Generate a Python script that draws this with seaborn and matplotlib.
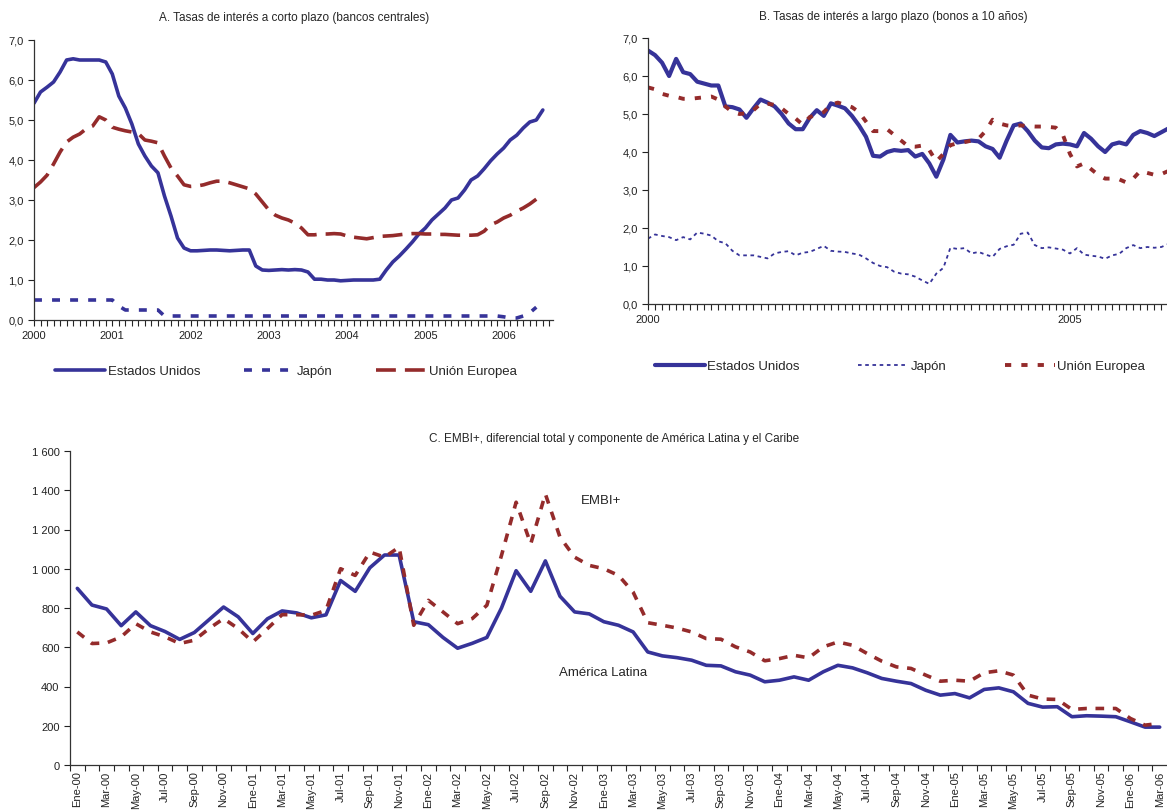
import numpy as np
import pandas as pd
import seaborn as sns
import matplotlib.pyplot as plt
from matplotlib.ticker import FuncFormatter, MultipleLocator, FixedLocator

# ---- data -------------------------------------------------------------
# Panel A: short-term rates, monthly from Jan 2000
a_usa = [5.42, 5.70, 5.82, 5.95, 6.20, 6.50, 6.53, 6.50, 6.50, 6.50, 6.50, 6.45,
         6.15, 5.60, 5.30, 4.90, 4.40, 4.10, 3.85, 3.68, 3.10, 2.60, 2.05, 1.80,
         1.73, 1.73, 1.74, 1.75, 1.75, 1.74, 1.73, 1.74, 1.75, 1.75, 1.35, 1.25,
         1.24, 1.25, 1.26, 1.25, 1.26, 1.25, 1.20, 1.02, 1.02, 1.00, 1.00, 0.98,
         0.99, 1.00, 1.00, 1.00, 1.00, 1.02, 1.25, 1.45, 1.60, 1.77, 1.95, 2.15,
         2.30, 2.50, 2.65, 2.80, 3.00, 3.05, 3.25, 3.50, 3.60, 3.78, 3.98, 4.15,
         4.30, 4.50, 4.62, 4.80, 4.95, 5.00, 5.25]
a_japan = [0.50] * 13 + [0.35] + [0.25] * 6 + [0.10] * 52 + [0.08, 0.05, 0.05, 0.10, 0.18, 0.32]
a_eu = [3.31, 3.45, 3.62, 3.90, 4.20, 4.45, 4.57, 4.65, 4.78, 4.85, 5.08, 5.00,
        4.82, 4.77, 4.73, 4.70, 4.66, 4.50, 4.47, 4.43, 4.10, 3.80, 3.60, 3.38,
        3.34, 3.35, 3.38, 3.43, 3.47, 3.47, 3.43, 3.38, 3.33, 3.28, 3.15, 2.95,
        2.75, 2.62, 2.55, 2.50, 2.42, 2.30, 2.13, 2.13, 2.15, 2.15, 2.16, 2.15,
        2.10, 2.07, 2.05, 2.03, 2.06, 2.09, 2.10, 2.11, 2.13, 2.15, 2.16, 2.16,
        2.15, 2.15, 2.14, 2.14, 2.13, 2.12, 2.12, 2.12, 2.13, 2.22, 2.38, 2.45,
        2.55, 2.62, 2.72, 2.80, 2.90, 3.02]

# Panel B: 10-year bond yields, monthly from Jan 2000
b_usa = [6.67, 6.55, 6.35, 6.00, 6.45, 6.10, 6.05, 5.85, 5.80, 5.75, 5.75, 5.20,
         5.18, 5.12, 4.90, 5.15, 5.38, 5.30, 5.20, 5.00, 4.75, 4.60, 4.60, 4.90,
         5.10, 4.95, 5.28, 5.22, 5.15, 4.95, 4.70, 4.40, 3.90, 3.88, 4.00, 4.05,
         4.03, 4.05, 3.88, 3.95, 3.70, 3.35, 3.80, 4.45, 4.25, 4.28, 4.30, 4.28,
         4.15, 4.08, 3.85, 4.30, 4.70, 4.75, 4.55, 4.30, 4.12, 4.10, 4.20, 4.22,
         4.20, 4.15, 4.50, 4.35, 4.15, 4.00, 4.20, 4.25, 4.20, 4.45, 4.55, 4.50,
         4.42, 4.52, 4.62]
b_japan = [1.72, 1.83, 1.79, 1.76, 1.68, 1.76, 1.70, 1.88, 1.85, 1.80, 1.65, 1.60,
           1.40, 1.28, 1.28, 1.28, 1.24, 1.20, 1.33, 1.37, 1.39, 1.28, 1.35, 1.37,
           1.45, 1.53, 1.40, 1.38, 1.37, 1.33, 1.30, 1.20, 1.08, 1.00, 0.97, 0.85,
           0.80, 0.78, 0.72, 0.62, 0.53, 0.80, 0.95, 1.48, 1.45, 1.47, 1.33, 1.37,
           1.30, 1.24, 1.45, 1.52, 1.56, 1.85, 1.88, 1.55, 1.47, 1.49, 1.46, 1.43,
           1.33, 1.47, 1.30, 1.27, 1.25, 1.19, 1.28, 1.32, 1.47, 1.55, 1.47, 1.50,
           1.48, 1.50, 1.58]
b_eu = [5.70, 5.65, 5.53, 5.48, 5.45, 5.40, 5.40, 5.42, 5.44, 5.46, 5.38, 5.20,
        5.05, 5.00, 5.02, 5.10, 5.27, 5.27, 5.24, 5.15, 5.00, 4.88, 4.72, 4.92,
        4.98, 5.05, 5.25, 5.30, 5.24, 5.18, 5.05, 4.80, 4.55, 4.55, 4.60, 4.45,
        4.30, 4.15, 4.14, 4.17, 4.05, 3.75, 3.95, 4.18, 4.23, 4.26, 4.30, 4.35,
        4.55, 4.85, 4.75, 4.70, 4.68, 4.70, 4.68, 4.67, 4.67, 4.66, 4.64, 4.45,
        3.95, 3.62, 3.70, 3.55, 3.40, 3.30, 3.30, 3.28, 3.20, 3.30, 3.50, 3.45,
        3.40, 3.42, 3.50]

# Panel C: EMBI+ spread and Latin America component, Jan 2000 - Mar 2006
meses = ['Ene', 'Feb', 'Mar', 'Abr', 'May', 'Jun', 'Jul', 'Ago', 'Sep', 'Oct', 'Nov', 'Dic']
c_labels = [f"{m}-{y:02d}" for y in range(0, 7) for m in meses][:75]
c_latam = [900, 815, 795, 710, 780, 710, 680, 640, 675, 740, 805, 755,
           670, 745, 785, 775, 750, 765, 940, 885, 1005, 1070, 1070, 730,
           715, 650, 595, 620, 650, 800, 990, 885, 1040, 860, 780, 770,
           730, 712, 678, 576, 556, 547, 534, 508, 505, 475, 458, 424,
           432, 449, 432, 475, 508, 495, 470, 441, 427, 415, 381, 356,
           364, 342, 385, 393, 373, 314, 295, 297, 246, 251, 249, 246,
           220, 193, 193]
c_embi = [678, 619, 622, 653, 720, 678, 653, 619, 636, 695, 746, 695,
          627, 695, 766, 766, 763, 788, 1000, 966, 1085, 1059, 1110, 712,
          839, 780, 720, 746, 814, 1068, 1339, 1127, 1381, 1161, 1059, 1017,
          1000, 966, 881, 725, 712, 698, 678, 644, 641, 602, 576, 531,
          542, 559, 546, 602, 627, 610, 568, 529, 500, 492, 458, 427,
          432, 427, 470, 480, 458, 356, 336, 334, 283, 288, 288, 288,
          237, 203, 212]

# ---- style ------------------------------------------------------------
sns.set_style("ticks")
plt.rcParams['font.family'] = ['Liberation Sans', 'DejaVu Sans']
plt.rcParams['axes.linewidth'] = 0.9
plt.rcParams['axes.edgecolor'] = '#333333'

BLUE = '#363399'
RED = '#942b2b'
W, H = 1167, 812


def frame(series):
    parts = []
    for name, vals in series.items():
        parts.append(pd.DataFrame({'x': 2000 + np.arange(len(vals)) / 12,
                                   'v': vals, 'serie': name}))
    return pd.concat(parts, ignore_index=True)


def coma(v, pos):
    return f"{v:.1f}".replace('.', ',')


def box(left, top, right, bottom):
    return [left / W, 1 - bottom / H, (right - left) / W, (bottom - top) / H]


fig = plt.figure(figsize=(W / 100, H / 100), dpi=100)
axA = fig.add_axes(box(34, 41, 553, 321))
axB = fig.add_axes(box(648, 39, 1167, 305))
axC = fig.add_axes(box(70, 452, 1167, 766))

order = ['Estados Unidos', 'Japón', 'Unión Europea']
pal = {'Estados Unidos': BLUE, 'Japón': BLUE, 'Unión Europea': RED}

# ---- panel A ----------------------------------------------------------
dfA = frame({'Estados Unidos': a_usa, 'Japón': a_japan, 'Unión Europea': a_eu})
sns.lineplot(data=dfA, x='x', y='v', hue='serie', style='serie', size='serie',
             hue_order=order, style_order=order, size_order=order,
             palette=pal, sizes={'Estados Unidos': 2.6, 'Japón': 2.6, 'Unión Europea': 2.6},
             dashes={'Estados Unidos': '', 'Japón': (2.2, 2.8), 'Unión Europea': (5.5, 2.5)},
             estimator=None, ax=axA)
axA.set_xlim(2000, 2006.63)
axA.set_ylim(0, 7)
axA.xaxis.set_major_locator(MultipleLocator(1))
axA.xaxis.set_minor_locator(MultipleLocator(1 / 12))
axA.xaxis.set_major_formatter(FuncFormatter(lambda v, p: f"{int(round(v))}"))
axA.yaxis.set_major_locator(MultipleLocator(1))
axA.yaxis.set_major_formatter(FuncFormatter(coma))
hA, lA = axA.get_legend_handles_labels()
axA.legend(hA, lA, loc='center', bbox_to_anchor=(286 / W, 1 - 372 / H),
           bbox_transform=fig.transFigure, ncol=3, frameon=False, fontsize=9.5,
           handlelength=3.8, handletextpad=0.2, columnspacing=3.3)

# ---- panel B ----------------------------------------------------------
dfB = frame({'Estados Unidos': b_usa, 'Japón': b_japan, 'Unión Europea': b_eu})
sns.lineplot(data=dfB, x='x', y='v', hue='serie', style='serie', size='serie',
             hue_order=order, style_order=order, size_order=order,
             palette=pal, sizes={'Estados Unidos': 3.0, 'Japón': 1.3, 'Unión Europea': 2.8},
             dashes={'Estados Unidos': '', 'Japón': (2, 2), 'Unión Europea': (1.6, 2.6)},
             estimator=None, ax=axB)
axB.set_xlim(2000, 2006.15)
axB.set_ylim(0, 7)
axB.xaxis.set_major_locator(MultipleLocator(5))
axB.xaxis.set_minor_locator(MultipleLocator(1 / 12))
axB.xaxis.set_major_formatter(FuncFormatter(lambda v, p: f"{int(round(v))}"))
axB.yaxis.set_major_locator(MultipleLocator(1))
axB.yaxis.set_major_formatter(FuncFormatter(coma))
hB, lB = axB.get_legend_handles_labels()
axB.legend(hB, lB, loc='center', bbox_to_anchor=(900 / W, 1 - 367 / H),
           bbox_transform=fig.transFigure, ncol=3, frameon=False, fontsize=9.5,
           handlelength=3.8, handletextpad=0.2, columnspacing=4.4)

# ---- panel C ----------------------------------------------------------
idx = np.arange(len(c_labels))
dfC = pd.concat([pd.DataFrame({'x': idx, 'v': c_latam, 'serie': 'América Latina'}),
                 pd.DataFrame({'x': idx, 'v': c_embi, 'serie': 'EMBI+'})],
                ignore_index=True)
sns.lineplot(data=dfC, x='x', y='v', hue='serie', style='serie',
             palette={'América Latina': BLUE, 'EMBI+': RED},
             dashes={'América Latina': '', 'EMBI+': (2.4, 2.4)},
             linewidth=2.6, estimator=None, legend=False, ax=axC)
axC.set_xlim(-0.5, len(c_labels) - 0.5)
axC.set_ylim(0, 1600)
axC.yaxis.set_major_locator(MultipleLocator(200))
axC.yaxis.set_major_formatter(FuncFormatter(lambda v, p: f"{int(v):,}".replace(',', ' ')))
axC.xaxis.set_major_locator(FixedLocator(idx[::2]))
axC.set_xticklabels(c_labels[::2], rotation=90)
axC.xaxis.set_minor_locator(FixedLocator(idx - 0.5))

axC.text(34.4, 1350, 'EMBI+', fontsize=9.5, va='center', ha='left')
axC.text(32.9, 474, 'América Latina', fontsize=9.5, va='center', ha='left')

# ---- common axis styling ----------------------------------------------
for ax in (axA, axB, axC):
    sns.despine(ax=ax)
    ax.set_xlabel('')
    ax.set_ylabel('')
    ax.tick_params(axis='both', labelsize=8, colors='#222222', width=0.8)
    ax.tick_params(axis='y', length=4)
for ax in (axA, axB):
    ax.tick_params(axis='x', which='both', length=4, width=0.8)
axC.tick_params(axis='x', which='major', length=0, pad=4, labelsize=8)
axC.tick_params(axis='x', which='minor', length=4, width=0.8)

fig.text(294 / W, 1 - 18 / H, 'A. Tasas de interés a corto plazo (bancos centrales)',
         ha='center', va='center', fontsize=8.5)
fig.text(893 / W, 1 - 17 / H, 'B. Tasas de interés a largo plazo (bonos a 10 años)',
         ha='center', va='center', fontsize=8.5)
fig.text(614 / W, 1 - 439 / H, 'C. EMBI+, diferencial total y componente de América Latina y el Caribe',
         ha='center', va='center', fontsize=8.5)

fig.savefig('out.png', dpi=100)
